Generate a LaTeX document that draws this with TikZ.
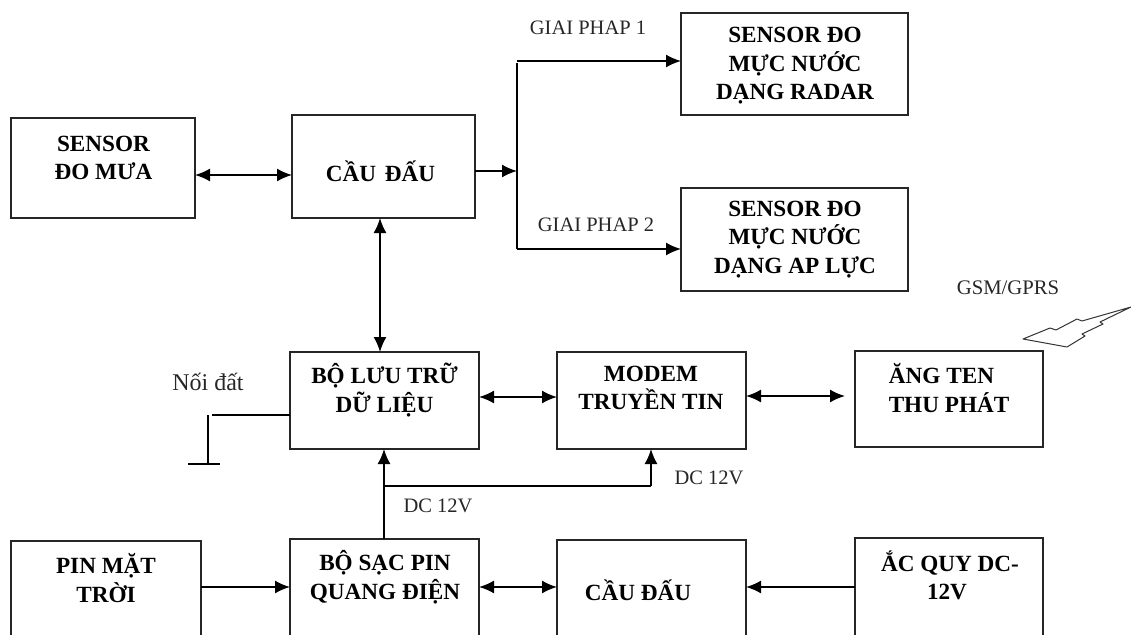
\documentclass[tikz,border=0pt]{standalone}
\usepackage{fontspec}
\setmainfont{Liberation Serif}
\usetikzlibrary{arrows.meta,calc}
\newcommand{\blockbox}[5]{%
  \node[blockframe,minimum width=#4 pt-#2 pt,minimum height=#5 pt-#3 pt] (#1) at ({(#2+#4)/2},{(#3+#5)/2}) {};
}
\tikzset{
  blockframe/.style={draw=black!85,line width=1.8pt,fill=white,inner sep=0pt,outer sep=0pt},
  blocktext/.style={font=\bfseries\fontsize{23.2}{28.5}\selectfont,align=center,inner sep=0pt,text=black},
  notetext/.style={font=\fontsize{20.5}{22}\selectfont,inner sep=0pt,text=black!85},
  wire/.style={draw=black,line width=1.7pt},
  link/.style={wire,-{Latex[length=15pt,width=13pt]}},
  dlink/.style={wire,{Latex[length=15pt,width=13pt]}-{Latex[length=15pt,width=13pt]}}
}
\begin{document}
\begin{tikzpicture}[x=1pt,y=-1pt]
\useasboundingbox (0,0) rectangle (1131,634);
\clip (0,0) rectangle (1131,634);
\blockbox{mua}{11}{118}{195}{218}
\blockbox{cau}{292}{115}{475}{218}
\blockbox{radar}{681}{13}{908}{115}
\blockbox{apluc}{681}{188}{908}{291}
\blockbox{luutru}{290}{352}{479}{449}
\blockbox{modem}{557}{352}{746}{449}
\blockbox{angten}{855}{351}{1043}{447}
\blockbox{pin}{11}{541}{201}{650}
\blockbox{sac}{290}{539}{479}{650}
\blockbox{caub}{557}{540}{746}{650}
\blockbox{acquy}{855}{538}{1043}{650}
\node[blocktext] (tmua) at (103.5,158) {SENSOR\\ĐO MƯA};
\node[blocktext] (tcau) at (380.5,171.5) {CẦU\hspace{3pt} ĐẤU};
\node[blocktext] (tradar) at (795,66) {SENSOR ĐO\\MỰC NƯỚC\\DẠNG RADAR};
\node[blocktext] (tapluc) at (795,239.5) {SENSOR ĐO\\MỰC NƯỚC\\DẠNG AP LỰC};
\node[blocktext] (tluutru) at (384.5,390) {BỘ LƯU TRỮ\\DỮ LIỆU};
\node[blocktext] (tmodem) at (651,388) {MODEM\\TRUYỀN TIN};
\node[blocktext] (tangten) at (949,388) {ĂNG TEN\hspace*{15pt}\\THU PHÁT};
\node[blocktext] (tpin) at (106,578) {PIN MẶT\\TRỜI};
\node[blocktext] (tsac) at (385,577) {BỘ SẠC PIN\\QUANG ĐIỆN};
\node[blocktext] (tcaub) at (638,590) {CẦU ĐẤU};
\node[blocktext] (tacquy) at (950,575.5) {ẮC QUY DC-\\12V\hspace*{6pt}};
\node[notetext] (g1) at (588,28) {GIAI PHAP 1};
\node[notetext] (g2) at (596,225) {GIAI PHAP 2};
\node[notetext,font=\fontsize{20.7}{22}\selectfont] (gsm) at (1008,288) {GSM/GPRS};
\node[notetext,font=\fontsize{24}{26}\selectfont] (noi) at (208,382) {Nối đất};
\node[notetext] (dca) at (438,506) {DC 12V};
\node[notetext] (dcb) at (709,478) {DC 12V};
% junction points
\coordinate (jt) at (517,61);
\coordinate (jts) at (517,63);
\coordinate (jm) at (517,171);
\coordinate (jb) at (517,249);
\coordinate (gndc) at (208,415);
\coordinate (gnds) at (212,415);
\coordinate (gndb) at (208,464);
\coordinate (gndl) at (188,464);
\coordinate (gndr) at (220,464);
\coordinate (dcj) at (384,486);
\coordinate (dcc) at (651,486);
\coordinate (antip) at (845,396);
\draw[dlink] (mua.east |- 0,175) -- (cau.west |- 0,175);
\draw[link] (cau.east |- jm) -- (jm);
\draw[wire] (jts) -- (jb);
\draw[link] (jt) -- (radar.west |- jt);
\draw[link] (jb) -- (apluc.west |- jb);
\draw[dlink] (380,0 |- cau.south) -- (380,0 |- luutru.north);
\draw[dlink] (luutru.east |- 0,397) -- (modem.west |- 0,397);
\draw[dlink] (modem.east |- antip) -- (antip);
\draw[wire] (luutru.west |- gnds) -- (gnds);
\draw[wire] (gndc) -- (gndb);
\draw[wire] (gndl) -- (gndr);
\draw[link] (dcj |- sac.north) -- (dcj |- luutru.south);
\draw[wire] (dcj) -- (dcc);
\draw[link] (dcc) -- (dcc |- modem.south);
\draw[link] (pin.east |- 0,587) -- (sac.west |- 0,587);
\draw[dlink] (sac.east |- 0,587) -- (caub.west |- 0,587);
\draw[link] (acquy.west |- 0,587) -- (caub.east |- 0,587);
\draw[draw=black!80,line width=1pt,line join=round] (1023,339) -- (1050,328) -- (1056,330) -- (1077,319) -- (1082,321) -- (1131,307) -- (1100,322) -- (1103,324) -- (1082,334) -- (1085,336) -- (1067,347) -- cycle;
\end{tikzpicture}
\end{document}
